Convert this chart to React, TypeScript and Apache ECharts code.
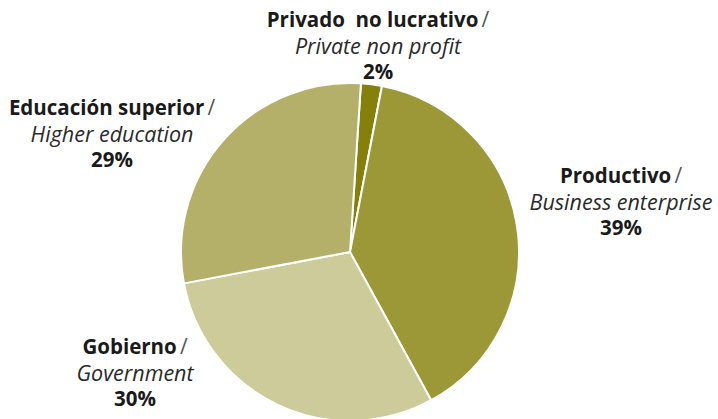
import React, { useEffect, useRef } from "react";
import * as echarts from "echarts";

const namesEs = ["Privado  no lucrativo", "Productivo", "Gobierno", "Educación superior"];
const namesEn = ["Private non profit", "Business enterprise", "Government", "Higher education"];
const shares = [2, 39, 30, 29];
const colors = ["#857f0c", "#9c9837", "#cecb9b", "#b4b06a"];
const labelPos = [
  [378, 45],
  [621, 201],
  [135, 372],
  [112, 133],
];

export default function App() {
  const ref = useRef<HTMLDivElement>(null);
  useEffect(() => {
    if (!ref.current) return;
    const chart = echarts.init(ref.current, null, { renderer: "svg" });
    const font = "Open Sans";
    chart.setOption({
      animation: false,
      backgroundColor: "#ffffff",
      series: [
        {
          type: "pie",
          center: [350, 252],
          radius: 169,
          startAngle: 86.3,
          clockwise: true,
          avoidLabelOverlap: false,
          itemStyle: { borderColor: "#ffffff", borderWidth: 2 },
          labelLine: { show: false },
          label: {
            show: true,
            position: "outside",
            align: "center",
            fontFamily: font,
            formatter: (p: any) =>
              `{b|${namesEs[p.dataIndex]}} {s|/}\n{i|${namesEn[p.dataIndex]}}\n{p|${p.value}%}`,
            rich: {
              b: { fontFamily: font, fontSize: 20.5, fontWeight: "bold", color: "#1a1a1a", lineHeight: 26, align: "center" },
              s: { fontFamily: font, fontSize: 21, fontWeight: "normal", color: "#555555", lineHeight: 26, align: "center" },
              i: { fontFamily: font, fontSize: 21.5, fontStyle: "italic", color: "#2a2a2a", lineHeight: 26, align: "center" },
              p: { fontFamily: font, fontSize: 20.5, fontWeight: "bold", color: "#1a1a1a", lineHeight: 26, align: "center" },
            },
          },
          labelLayout: (params: any) => ({
            x: labelPos[params.dataIndex][0],
            y: labelPos[params.dataIndex][1],
            align: "center",
            verticalAlign: "middle",
          }),
          data: shares.map((v, i) => ({
            value: v,
            name: namesEs[i],
            itemStyle: { color: colors[i] },
          })),
        },
      ],
    });
    return () => chart.dispose();
  }, []);
  return (
    <div
      ref={ref}
      style={{ position: "absolute", left: 0, top: 0, width: 718, height: 419 }}
    />
  );
}
